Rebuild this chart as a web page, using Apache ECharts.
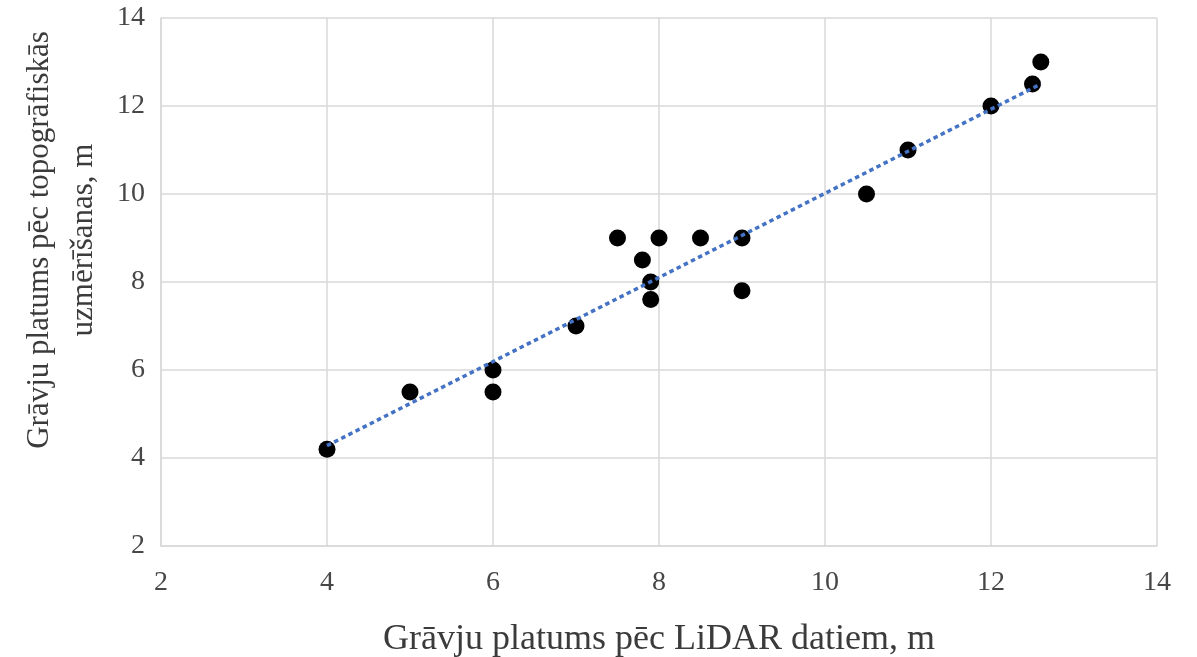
<!DOCTYPE html>
<html>
<head>
<meta charset="utf-8">
<script src="https://cdn.jsdelivr.net/npm/echarts@6/dist/echarts.min.js"></script>
<style>
html,body{margin:0;padding:0;background:#fff;}
#chart{width:1197px;height:657px;}
</style>
</head>
<body>
<div id="chart"></div>
<script>
// Data
var lidarX = [4, 5, 6, 6, 7, 7.5, 7.8, 7.9, 7.9, 8, 8.5, 9, 9, 10.5, 11, 12, 12.5, 12.6];
var topoY  = [4.2, 5.5, 6, 5.5, 7, 9, 8.5, 8, 7.6, 9, 9, 9, 7.8, 10, 11, 12, 12.5, 13];
var trendX = [4, 12.6];
var trendY = [4.28, 12.5];
var xTitle = 'Grāvju platums pēc LiDAR datiem, m';
var yTitle = 'Grāvju platums pēc topogrāfiskās\nuzmērīšanas, m';

var points = lidarX.map(function(x, i){ return [x, topoY[i]]; });
var trend = trendX.map(function(x, i){ return [x, trendY[i]]; });

var chart = echarts.init(document.getElementById('chart'), null, {renderer:'canvas'});
var fontFam = '"Liberation Serif", "Times New Roman", serif';
chart.setOption({
  animation: false,
  backgroundColor: '#ffffff',
  grid: {left: 161, right: 40, top: 18, bottom: 111, containLabel: false, outerBoundsMode: 'none'},
  xAxis: {
    type: 'value', min: 2, max: 14, interval: 2,
    name: xTitle, nameLocation: 'middle', nameGap: 76,
    nameTextStyle: {fontFamily: fontFam, fontSize: 36, color: '#3b3b3b'},
    axisLine: {show: true, lineStyle: {color: '#d9d9d9', width: 1.5}},
    axisTick: {show: false},
    axisLabel: {fontFamily: fontFam, fontSize: 28, color: '#474747', margin: 23},
    splitLine: {show: true, lineStyle: {color: '#d9d9d9', width: 1.5}}
  },
  yAxis: {
    type: 'value', min: 2, max: 14, interval: 2,
    axisLine: {show: true, lineStyle: {color: '#d9d9d9', width: 1.5}},
    axisTick: {show: false},
    axisLabel: {fontFamily: fontFam, fontSize: 28, color: '#474747', margin: 16},
    splitLine: {show: true, lineStyle: {color: '#d9d9d9', width: 1.5}}
  },
  graphic: [{
    type: 'text',
    x: 62, y: 240,
    rotation: Math.PI / 2,
    style: {
      text: yTitle,
      fontFamily: fontFam,
      fontSize: 31,
      lineHeight: 44,
      fill: '#3b3b3b',
      align: 'center',
      verticalAlign: 'middle'
    }
  }],
  series: [{
    type: 'scatter',
    data: points,
    symbol: 'circle',
    symbolSize: 17,
    itemStyle: {color: '#000000', opacity: 1},
    z: 2
  }, {
    type: 'line',
    data: trend,
    showSymbol: false,
    symbol: 'none',
    lineStyle: {color: '#4472C4', width: 3.5, type: [4.5, 3.5], cap: 'butt'},
    z: 3
  }]
});
</script>
</body>
</html>
